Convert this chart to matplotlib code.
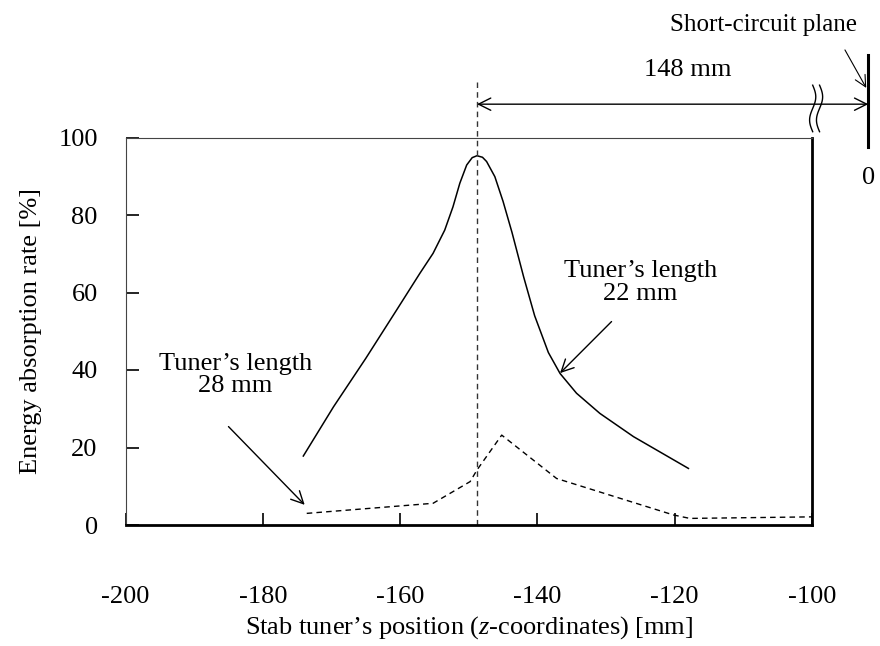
import numpy as np
import matplotlib.pyplot as plt

# Data
x_22 = [-174.1, -169.7, -165.0, -160.5, -157.1, -155.2, -153.5, -152.3, -151.3, -150.3,
        -149.5, -148.8, -148.0, -147.4, -146.2, -145.0, -143.7, -142.0, -140.4, -138.4,
        -136.7, -134.3, -130.9, -126.0, -118.0]
y_22 = [17.8, 30.5, 43.0, 55.5, 65.0, 70.1, 76.1, 82.1, 88.2, 92.9,
        94.8, 95.3, 94.9, 93.8, 89.9, 83.5, 75.5, 64.0, 54.0, 44.5,
        39.1, 34.0, 28.8, 22.8, 14.6]

x_28 = [-173.6, -155.2, -149.8, -148.8, -145.2, -137.2, -120.2, -117.8, -100.0]
y_28 = [3.0, 5.6, 11.2, 14.2, 23.2, 12.0, 2.6, 1.7, 2.1]

x_ticks = [-200, -180, -160, -140, -120, -100]
y_ticks = [0, 20, 40, 60, 80, 100]

peak_z = -148.8
plane_z = -91.8

plt.rcParams['font.family'] = ['Liberation Serif', 'DejaVu Serif']
plt.rcParams['font.size'] = 19
plt.rcParams['axes.unicode_minus'] = False
plt.rcParams['mathtext.fontset'] = 'custom'
plt.rcParams['mathtext.it'] = 'Liberation Serif:italic'
plt.rcParams['mathtext.rm'] = 'Liberation Serif'

fig = plt.figure(figsize=(8.8, 6.46), dpi=100)
ax = fig.add_axes([125.5 / 880, 121 / 646, 686.5 / 880, 387.5 / 646])

ax.plot(x_22, y_22, color='black', lw=1.1)
ax.plot(x_28, y_28, color='black', lw=1.0, dashes=(4, 3))

ax.set_xlim(-200, -100)
ax.set_ylim(0, 100)
ax.set_xticks(x_ticks)
ax.set_yticks(y_ticks)
ax.tick_params(direction='in', length=9, width=1.2, pad=20)
ax.tick_params(axis='x', pad=44)

ax.spines['left'].set_linewidth(0.8)
ax.spines['top'].set_linewidth(0.8)
ax.spines['left'].set_color('#444444')
ax.spines['top'].set_color('#444444')
ax.spines['bottom'].set_linewidth(2)
ax.spines['right'].set_linewidth(2)

ax.set_xlabel('Stab tuner’s position ($z$-coordinates) [mm]', labelpad=4)
ax.set_ylabel('Energy absorption rate [%]', labelpad=12)

# vertical dashed line at the peak
ax.plot([peak_z, peak_z], [0, 114.3], color='#333333', lw=1.0, dashes=(4, 3), clip_on=False)

# 148 mm arrow
ax.annotate('', xy=(plane_z, 108.6), xytext=(peak_z, 108.6),
            arrowprops=dict(arrowstyle='<->', color='black', lw=1.0,
                            mutation_scale=22, shrinkA=0, shrinkB=0),
            annotation_clip=False)
ax.text(-118.1, 117.4, '148 mm', ha='center', va='center')

# break mark on the arrow
t = np.linspace(-1, 1, 30)
for off in (-1.0, 0.0):
    bx = -98.9 + off + 0.45 * np.sin(t * np.pi)
    by = 107.5 + t * 6.0
    ax.plot(bx, by, color='black', lw=1.0, clip_on=False)

# short-circuit plane
ax.plot([plane_z, plane_z], [97.5, 121.3], color='black', lw=2.2, clip_on=False)
ax.text(plane_z, 89.5, '0', ha='center', va='center')
ax.text(-107.1, 129.0, 'Short-circuit plane', ha='center', va='center', fontsize=18)
ax.annotate('', xy=(-92.1, 112.8), xytext=(-95.2, 122.6),
            arrowprops=dict(arrowstyle='->', color='black', lw=0.8,
                            mutation_scale=20, shrinkA=0, shrinkB=0),
            annotation_clip=False)

# tuner labels
ax.text(-125.0, 62.5, 'Tuner’s length\n22 mm', ha='center', va='center', linespacing=1.05)
ax.annotate('', xy=(-136.7, 39.2), xytext=(-129.2, 52.5),
            arrowprops=dict(arrowstyle='->', color='black', lw=1.0,
                            mutation_scale=22, shrinkA=0, shrinkB=0))
ax.text(-184.0, 38.7, 'Tuner’s length\n28 mm', ha='center', va='center', linespacing=1.05)
ax.annotate('', xy=(-173.9, 5.2), xytext=(-185.0, 25.4),
            arrowprops=dict(arrowstyle='->', color='black', lw=1.0,
                            mutation_scale=22, shrinkA=0, shrinkB=0))

fig.savefig('out.png', dpi=100)
